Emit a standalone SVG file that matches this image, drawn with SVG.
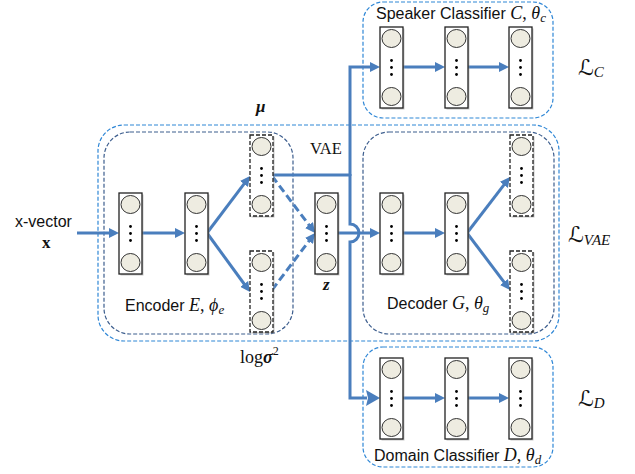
<svg xmlns="http://www.w3.org/2000/svg" xmlns:xlink="http://www.w3.org/1999/xlink" width="635" height="474" viewBox="0 0 635 474">
<style>
.outer{fill:none;stroke:#2F87D6;stroke-width:1.2;stroke-dasharray:4 2}
.inner{fill:none;stroke:#3D5E8E;stroke-width:1.2;stroke-dasharray:4 2}
.arr{fill:none;stroke:#4A7EBD;stroke-width:3}
.dash{stroke-dasharray:8 4}
.sans{font-family:"Liberation Sans",Arial,sans-serif;font-size:16px;fill:#111}
.math{font-family:"Liberation Serif","Times New Roman",serif;fill:#111}
.it{font-style:italic}
.bf{font-weight:bold}
.cal{font-family:"DejaVu Serif","DejaVu Sans",serif;font-style:italic;fill:#111}
</style>
<defs>
<marker id="ah" markerUnits="userSpaceOnUse" markerWidth="12" markerHeight="10" refX="2" refY="5" orient="auto"><path d="M0,0 L10,5 L0,10 z" fill="#4A7EBD"/></marker>
<marker id="ahb" markerUnits="userSpaceOnUse" markerWidth="16" markerHeight="16" refX="1" refY="8" orient="auto"><path d="M0,0 L14,8 L0,16 L2,8 z" fill="#4A7EBD"/></marker>
<g id="L">
<rect x="1.5" y="1.5" width="23" height="81" fill="#9a9a9a" opacity="0.55"/>
<rect width="23" height="81" fill="#fff" stroke="#222" stroke-width="1.3"/>
<ellipse cx="11.5" cy="11.5" rx="9.5" ry="9" fill="#EEECE1" stroke="#333" stroke-width="1"/>
<ellipse cx="11.5" cy="69.5" rx="9.5" ry="9" fill="#EEECE1" stroke="#333" stroke-width="1"/>
<circle cx="11.5" cy="33.5" r="1.4" fill="#000"/>
<circle cx="11.5" cy="40.5" r="1.4" fill="#000"/>
<circle cx="11.5" cy="47.5" r="1.4" fill="#000"/>
</g>
<g id="LD">
<rect x="1.5" y="1.5" width="23" height="81" fill="#9a9a9a" opacity="0.55"/>
<rect width="23" height="81" fill="#fff" stroke="#222" stroke-width="1.3" stroke-dasharray="4 2"/>
<ellipse cx="11.5" cy="11.5" rx="9.5" ry="9" fill="#EEECE1" stroke="#333" stroke-width="1"/>
<ellipse cx="11.5" cy="69.5" rx="9.5" ry="9" fill="#EEECE1" stroke="#333" stroke-width="1"/>
<circle cx="11.5" cy="33.5" r="1.4" fill="#000"/>
<circle cx="11.5" cy="40.5" r="1.4" fill="#000"/>
<circle cx="11.5" cy="47.5" r="1.4" fill="#000"/>
</g>
</defs>
<rect width="635" height="474" fill="#fff"/>

<!-- containers -->
<g id="vae-box"><rect class="outer" x="98" y="125" width="461" height="216" rx="26"/></g>
<g id="encoder-box"><rect class="inner" x="104" y="132" width="189" height="202" rx="26"/></g>
<g id="decoder-box"><rect class="inner" x="363" y="132" width="191" height="202" rx="26"/></g>
<g id="speaker-box"><rect class="outer" x="363" y="2" width="190" height="116" rx="20"/></g>
<g id="domain-box"><rect class="outer" x="363" y="347" width="190" height="120" rx="20"/></g>

<!-- connectors -->
<g id="connectors">
<path class="arr" d="M77 233 H111" marker-end="url(#ah)"/>
<path class="arr" d="M142 233 H177" marker-end="url(#ah)"/>
<path class="arr" d="M207 233 L245.2 182.4" marker-end="url(#ah)"/>
<path class="arr" d="M207 233 L245.3 285.5" marker-end="url(#ah)"/>
<path class="arr dash" d="M272 176 L310.2 226.6" marker-end="url(#ah)"/>
<path class="arr dash" d="M272 290 L310.2 239.4" marker-end="url(#ah)"/>
<path class="arr" d="M272 175 H350"/>
<path class="arr" d="M350 176 V67 H372" marker-end="url(#ah)"/>
<path class="arr" d="M350 174 V224 A9 9 0 0 1 350 242 V398 H367" marker-end="url(#ahb)"/>
<path class="arr" d="M337 233 H372" marker-end="url(#ah)"/>
<path class="arr" d="M402 233 H437" marker-end="url(#ah)"/>
<path class="arr" d="M467 233 L505.1 183.3" marker-end="url(#ah)"/>
<path class="arr" d="M467 233 L505.2 283.6" marker-end="url(#ah)"/>
<path class="arr" d="M403 67 H437" marker-end="url(#ah)"/>
<path class="arr" d="M467 67 H501" marker-end="url(#ah)"/>
<path class="arr" d="M403 398 H437" marker-end="url(#ah)"/>
<path class="arr" d="M467 398 H501" marker-end="url(#ah)"/>
</g>

<!-- layers -->
<g id="enc1"><use xlink:href="#L" x="119" y="193"/></g>
<g id="enc2"><use xlink:href="#L" x="185" y="193"/></g>
<g id="mu"><use xlink:href="#LD" x="250" y="135"/></g>
<g id="logvar"><use xlink:href="#LD" x="250" y="251"/></g>
<g id="z"><use xlink:href="#L" x="315" y="193"/></g>
<g id="dec1"><use xlink:href="#L" x="380" y="193"/></g>
<g id="dec2"><use xlink:href="#L" x="445" y="193"/></g>
<g id="dec-out1"><use xlink:href="#LD" x="510" y="135"/></g>
<g id="dec-out2"><use xlink:href="#LD" x="510" y="251"/></g>
<g id="spk1"><use xlink:href="#L" x="380" y="27"/></g>
<g id="spk2"><use xlink:href="#L" x="445" y="27"/></g>
<g id="spk3"><use xlink:href="#L" x="509" y="27"/></g>
<g id="dom1"><use xlink:href="#L" x="380" y="358"/></g>
<g id="dom2"><use xlink:href="#L" x="445" y="358"/></g>
<g id="dom3"><use xlink:href="#L" x="509" y="358"/></g>

<!-- labels -->
<g id="labels">
<text class="sans" x="15" y="227" font-size="16.5">x-vector</text>
<text class="math bf" x="42" y="248" font-size="17">x</text>
<text class="sans" x="125" y="311">Encoder <tspan class="math it" font-size="18">E</tspan><tspan class="math" font-size="18">, </tspan><tspan class="math it" font-size="18">ϕ</tspan><tspan class="math it" font-size="13" dy="3">e</tspan></text>
<text class="sans" x="387" y="309">Decoder <tspan class="math it" font-size="18">G</tspan><tspan class="math" font-size="18">, </tspan><tspan class="math it" font-size="18">θ</tspan><tspan class="math it" font-size="13" dy="3">g</tspan></text>
<text class="sans" x="376" y="19">Speaker Classifier <tspan class="math it" font-size="18">C</tspan><tspan class="math" font-size="18">, </tspan><tspan class="math it" font-size="18">θ</tspan><tspan class="math it" font-size="13" dy="3">c</tspan></text>
<text class="sans" x="374" y="461">Domain Classifier <tspan class="math it" font-size="18">D</tspan><tspan class="math" font-size="18">, </tspan><tspan class="math it" font-size="18">θ</tspan><tspan class="math it" font-size="13" dy="3">d</tspan></text>
<text class="math it bf" x="256" y="112" font-size="17">μ</text>
<text class="math" x="310" y="154" font-size="16.5">VAE</text>
<text class="math it bf" x="323" y="290" font-size="17">z</text>
<text class="math" x="240" y="363" font-size="18">log<tspan class="it bf">σ</tspan><tspan font-size="12" dy="-8">2</tspan></text>
<text class="cal" x="578" y="75" font-size="22">ℒ<tspan class="math it" font-size="15" dy="2">C</tspan></text>
<text class="cal" x="568" y="242" font-size="22">ℒ<tspan class="math it" font-size="15" dy="3">VAE</tspan></text>
<text class="cal" x="578" y="406" font-size="22">ℒ<tspan class="math it" font-size="15" dy="2">D</tspan></text>
</g>
</svg>
